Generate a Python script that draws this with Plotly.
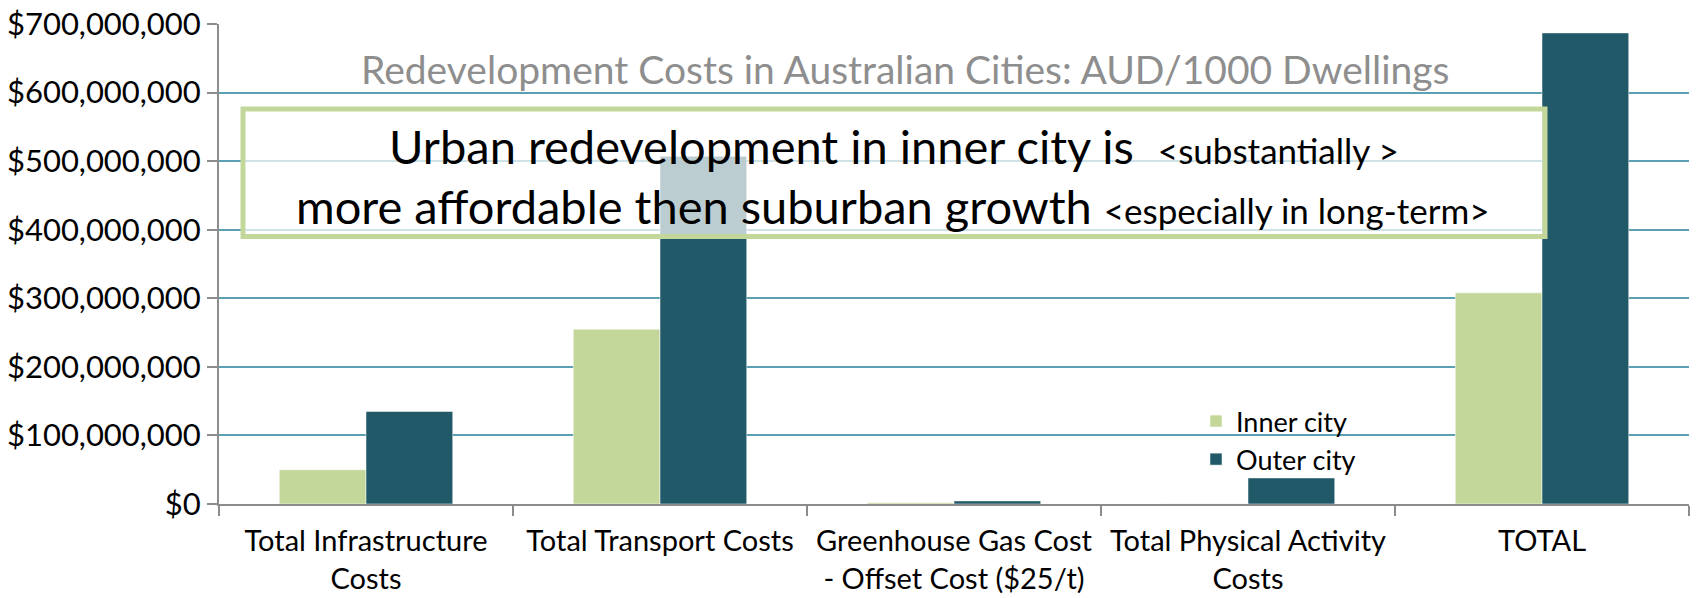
import plotly.graph_objects as go

categories = ["Total Infrastructure<br>Costs", "Total Transport Costs",
              "Greenhouse Gas Cost<br>- Offset Cost ($25/t)",
              "Total Physical Activity<br>Costs", "TOTAL"]
inner_city = [50_000_000, 255_000_000, 2_000_000, 500_000, 308_000_000]
outer_city = [135_000_000, 507_000_000, 4_500_000, 38_000_000, 687_000_000]
y_ticks = [0, 100_000_000, 200_000_000, 300_000_000, 400_000_000,
           500_000_000, 600_000_000, 700_000_000]

FONT = "Lato"
OFF = 8  # default page body margin
W, H = 1690, 590
# plot area in page coordinates: x 219..1689, y 24..504
L, R, T, B = 219 - OFF, W - (1689 - OFF), 24 - OFF, H - (504 - OFF)
pw, ph = W - L - R, H - T - B

def px(x):
    return (x - OFF - L) / pw

def py(y):
    return (H - B - (y - OFF)) / ph

fig = go.Figure()
fig.add_trace(go.Bar(name="Inner city", x=categories, y=inner_city,
                     marker=dict(color="#c4d79b", line=dict(color="rgba(255,255,255,0.5)", width=1))))
fig.add_trace(go.Bar(name="Outer city", x=categories, y=outer_city,
                     marker=dict(color="#215968", line=dict(color="rgba(255,255,255,0.5)", width=1))))

fig.update_layout(
    width=W, height=H,
    margin=dict(l=L, r=R, t=T, b=B, autoexpand=False),
    paper_bgcolor="white", plot_bgcolor="white",
    barmode="group", bargap=0.41, bargroupgap=0,
    font=dict(family=FONT, color="black"),
    showlegend=True,
    legend=dict(x=px(1196), y=py(397), xanchor="left", yanchor="top",
                font=dict(family=FONT, size=27, color="black"),
                bgcolor="rgba(0,0,0,0)", itemwidth=30, tracegroupgap=0),
)
fig.update_yaxes(range=[0, 700_000_000], tickvals=y_ticks, tickformat="$,.0f",
                 automargin=False, ticklabeloverflow="allow",
                 showgrid=True, gridcolor="#5b9fb2", gridwidth=1.5,
                 zeroline=False, showline=True, linecolor="#8c8c8c", linewidth=2,
                 ticks="outside", ticklen=10, tickwidth=2, tickcolor="#8c8c8c",
                 tickfont=dict(family=FONT, size=31, color="black"))
fig.update_xaxes(automargin=False, showline=True, linecolor="#8c8c8c", linewidth=2,
                 ticks="outside", tickson="boundaries", ticklen=10, tickwidth=2,
                 tickcolor="#8c8c8c", showgrid=False, ticklabelstandoff=10,
                 tickangle=0, ticklabeloverflow="allow",
                 tickfont=dict(family=FONT, size=29, color="black"))

fig.add_annotation(xref="paper", yref="paper", x=px(905), y=py(69),
                   text="Redevelopment Costs in Australian Cities: AUD/1000 Dwellings",
                   showarrow=False, xanchor="center", yanchor="middle",
                   font=dict(family=FONT, size=39, color="#8e8e8e"))

fig.add_shape(type="rect", xref="paper", yref="paper",
              x0=px(243), x1=px(1545), y0=py(236.5), y1=py(109),
              line=dict(color="#c4d79b", width=5),
              fillcolor="rgba(255,255,255,0.7)", layer="above")

fig.add_annotation(xref="paper", yref="paper", x=px(894), y=py(146),
                   text="Urban redevelopment in inner city is  <span style='font-size:35px'>&lt;substantially &gt;</span>",
                   showarrow=False, xanchor="center", yanchor="middle",
                   font=dict(family=FONT, size=47, color="black"))
fig.add_annotation(xref="paper", yref="paper", x=px(892), y=py(206),
                   text="more affordable then suburban growth <span style='font-size:35px'>&lt;especially in long-term&gt;</span>",
                   showarrow=False, xanchor="center", yanchor="middle",
                   font=dict(family=FONT, size=47, color="black"))

fig.write_html("out.html")
